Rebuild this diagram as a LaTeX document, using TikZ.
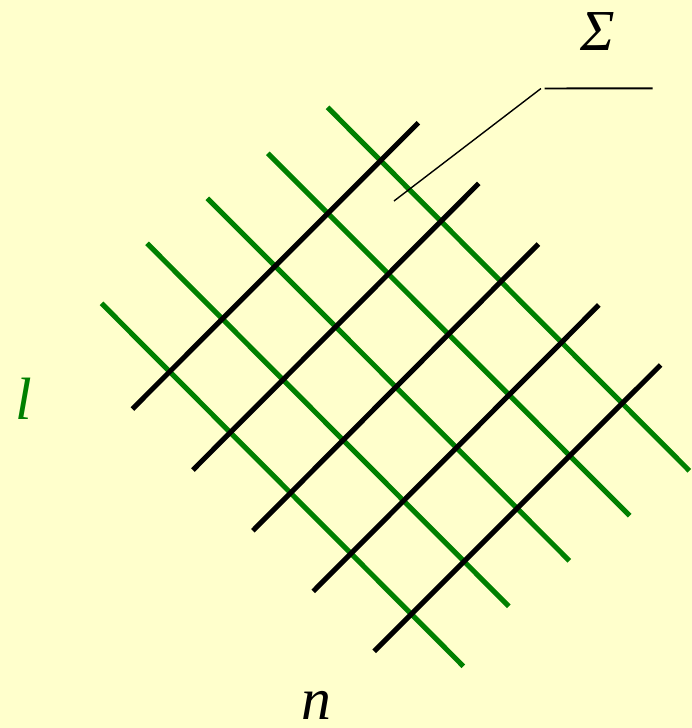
\documentclass[tikz,border=0pt]{standalone}
\usepackage{fontspec}
\setmainfont{Liberation Serif}
\definecolor{paper}{RGB}{255,255,204}
\definecolor{lgreen}{RGB}{0,128,0}
\usetikzlibrary{positioning}

\tikzset{
  lline/.style={draw=lgreen,line width=2.9pt},
  nline/.style={draw=black,line width=2.9pt},
  leader/.style={draw=black,line width=0.8pt},
  lbl/.style={font=\fontsize{34}{34}\selectfont\itshape,anchor=base,inner sep=0pt}
}

\begin{document}
\begin{tikzpicture}[x=0.02cm,y=-0.02cm]
  %% background (pixel frame of the figure)
  \fill[paper] (0,0) rectangle (692,728);
  \useasboundingbox (0,0) rectangle (692,728);

  %% family l (green)
  \foreach \xa/\ya/\xb/\yb in {327.5/107.3/689.3/470.7,
                               267.9/153.3/629.7/515.7,
                               207.4/198.3/569.3/560.7,
                               147/243.3/508.8/606.3,
                               101.5/303.3/463.4/666.3}
    \draw[lline] (\xa,\ya) -- (\xb,\yb);

  %% family n (black)
  \foreach \xa/\ya/\xb/\yb in {132.4/409/418.4/122.7,
                               192.9/470/478.8/183.3,
                               252.9/530.7/538.4/244,
                               313.3/591.3/598.8/305,
                               374.2/651.3/660.6/365}
    \draw[nline] (\xa,\ya) -- (\xb,\yb);

  %% labels
  \node[lbl,text=lgreen] (lab-l) at (24,419) {l};
  \node[lbl] (lab-n) at (316,719) {n};
  \node[lbl,font=\fontsize{33}{33}\selectfont\itshape] (lab-s) at (598,50.5) {Σ};

  %% leader for the surface
  \coordinate (s-tip) at (394,201);
  \coordinate (s-knee) at (541,88.5);
  \coordinate (s-end) at (652.7,88.3);
  \draw[leader] (s-tip) -- (s-knee);
  \draw[leader,line width=1.1pt] ([xshift=2]s-knee) -- (s-end);
\end{tikzpicture}
\end{document}
